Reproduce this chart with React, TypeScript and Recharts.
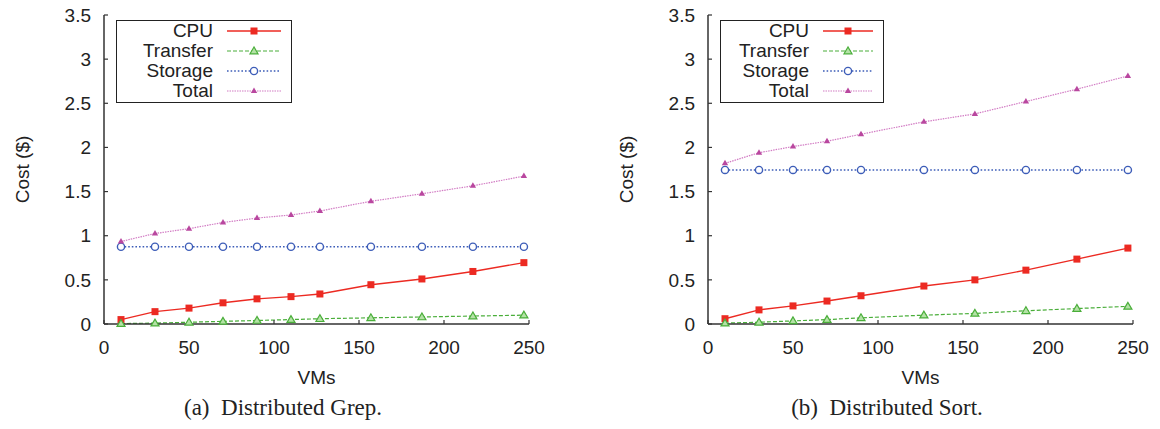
import { LineChart, Line, XAxis, YAxis } from 'recharts';

// VM counts on the x axis
const vmsGrep = [10, 30, 50, 70, 90, 110, 127, 157, 187, 217, 247];
const vmsSort = [10, 30, 50, 70, 90, 127, 157, 187, 217, 247];

// (a) Distributed Grep, cost in $
const cpuGrep = [0.05, 0.14, 0.18, 0.24, 0.285, 0.31, 0.34, 0.445, 0.51, 0.595, 0.695];
const transferGrep = [0.005, 0.01, 0.02, 0.03, 0.04, 0.05, 0.06, 0.07, 0.08, 0.09, 0.1];
const storageGrep = [0.875, 0.875, 0.875, 0.875, 0.875, 0.875, 0.875, 0.875, 0.875, 0.875, 0.875];
const totalGrep = [0.935, 1.025, 1.08, 1.15, 1.2, 1.235, 1.28, 1.39, 1.475, 1.565, 1.675];

// (b) Distributed Sort, cost in $
const cpuSort = [0.06, 0.16, 0.205, 0.26, 0.32, 0.43, 0.5, 0.61, 0.735, 0.86];
const transferSort = [0.01, 0.02, 0.035, 0.05, 0.07, 0.1, 0.12, 0.15, 0.175, 0.2];
const storageSort = [1.745, 1.745, 1.745, 1.745, 1.745, 1.745, 1.745, 1.745, 1.745, 1.745];
const totalSort = [1.82, 1.94, 2.01, 2.07, 2.15, 2.29, 2.38, 2.52, 2.66, 2.81];

const xTicks = [0, 50, 100, 150, 200, 250];
const yTicks = [0, 0.5, 1, 1.5, 2, 2.5, 3, 3.5];

const FONT = '"Liberation Sans", Arial, sans-serif';
const AXIS = '#333';

const SquareDot = ({ cx, cy, size = 7 }: any) => (
  <rect x={cx - size / 2} y={cy - size / 2} width={size} height={size} fill="#ec2a22" />
);
const OpenTriangle = ({ cx, cy }: any) => (
  <polygon
    points={`${cx},${cy - 4} ${cx - 4},${cy + 2.8} ${cx + 4},${cy + 2.8}`}
    fill="#b4e2a6"
    stroke="#4aae3a"
    strokeWidth={1.2}
  />
);
const OpenCircle = ({ cx, cy }: any) => (
  <circle cx={cx} cy={cy} r={3.6} fill="#fff" stroke="#3d5db8" strokeWidth={1.4} />
);
const SmallTriangle = ({ cx, cy }: any) => (
  <polygon points={`${cx},${cy - 3.5} ${cx - 3.2},${cy + 2} ${cx + 3.2},${cy + 2}`} fill="#b9479f" />
);

const series = [
  { key: 'cpu', name: 'CPU', color: '#ec2a22', dash: undefined, width: 1.4, Marker: SquareDot },
  { key: 'transfer', name: 'Transfer', color: '#4aae3a', dash: '4 2', width: 1.2, Marker: OpenTriangle },
  { key: 'storage', name: 'Storage', color: '#3d5db8', dash: '1.6 2', width: 1.4, Marker: OpenCircle },
  { key: 'total', name: 'Total', color: '#d27cc4', dash: '1.5 1', width: 1.2, Marker: SmallTriangle },
];

function rows(vms: number[], cpu: number[], transfer: number[], storage: number[], total: number[]) {
  return vms.map((v, i) => ({ vms: v, cpu: cpu[i], transfer: transfer[i], storage: storage[i], total: total[i] }));
}

function KeyBox({ width, textW, lineW }: { width: number; textW: number; lineW: number }) {
  return (
    <div
      style={{
        position: 'absolute',
        left: 116,
        top: 20,
        width,
        boxSizing: 'border-box',
        border: '1.5px solid #222',
        background: '#fff',
        padding: '0 0 1px 0',
        fontFamily: FONT,
        fontSize: 19,
        color: '#222',
      }}
    >
      {series.map((s) => (
        <div key={s.key} style={{ display: 'flex', alignItems: 'center', height: 20 }}>
          <div style={{ width: textW, textAlign: 'right', lineHeight: '20px' }}>{s.name}</div>
          <svg width={lineW} height={12} style={{ marginLeft: 14 }}>
            <line x1={0} y1={6} x2={lineW} y2={6} stroke={s.color} strokeWidth={s.width} strokeDasharray={s.dash} />
            <s.Marker cx={lineW / 2} cy={6} />
          </svg>
        </div>
      ))}
    </div>
  );
}

function CostChart({ data, left, legendW, textW, lineW, caption }: any) {
  return (
    <div style={{ position: 'absolute', left, top: 0, width: 580, height: 429 }}>
      <LineChart width={580} height={429} data={data} margin={{ top: 15, right: 51, bottom: 45, left: 44 }}>
        <XAxis
          dataKey="vms"
          type="number"
          domain={[0, 250]}
          ticks={xTicks}
          height={60}
          tickSize={-4}
          tickMargin={21}
          axisLine={{ stroke: AXIS, strokeWidth: 1.5 }}
          tickLine={{ stroke: AXIS, strokeWidth: 1.2 }}
          tick={{ fill: '#222', fontSize: 19, fontFamily: FONT }}
          label={{ value: 'VMs', position: 'insideBottom', offset: 0, fill: '#222', fontSize: 19, fontFamily: FONT }}
        />
        <YAxis
          type="number"
          domain={[0, 3.5]}
          ticks={yTicks}
          width={60}
          tickSize={-4}
          tickMargin={17}
          axisLine={{ stroke: AXIS, strokeWidth: 1.5 }}
          tickLine={{ stroke: AXIS, strokeWidth: 1.2 }}
          tick={{ fill: '#222', fontSize: 19, fontFamily: FONT }}
          label={(props: any) => {
            const vb = props.viewBox;
            const x = vb.x - 22;
            const y = vb.y + vb.height / 2;
            return (
              <text x={x} y={y} transform={`rotate(-90, ${x}, ${y})`} textAnchor="middle" dominantBaseline="central"
                fill="#222" fontSize={19} fontFamily={FONT}>
                Cost ($)
              </text>
            );
          }}
        />
        {series.map((s) => (
          <Line
            key={s.key}
            dataKey={s.key}
            name={s.name}
            stroke={s.color}
            strokeWidth={s.width}
            strokeDasharray={s.dash}
            isAnimationActive={false}
            dot={(p: any) => <s.Marker key={`${s.key}-${p.index}`} cx={p.cx} cy={p.cy} />}
            activeDot={false}
          />
        ))}
      </LineChart>
      <KeyBox width={legendW} textW={textW} lineW={lineW} />
      <div
        style={{
          position: 'absolute',
          left: 0,
          width: 566,
          top: 395,
          textAlign: 'center',
          fontFamily: '"Liberation Serif", "Times New Roman", serif',
          fontSize: 23,
          color: '#222',
          whiteSpace: 'pre',
        }}
      >
        {caption}
      </div>
    </div>
  );
}

export default function App() {
  return (
    <div style={{ position: 'absolute', left: 0, top: 0, width: 1160, height: 429, background: '#fff' }}>
      <CostChart
        data={rows(vmsGrep, cpuGrep, transferGrep, storageGrep, totalGrep)}
        left={0}
        legendW={176}
        textW={96}
        lineW={54}
        caption="(a)  Distributed Grep."
      />
      <CostChart
        data={rows(vmsSort, cpuSort, transferSort, storageSort, totalSort)}
        left={604}
        legendW={164}
        textW={88}
        lineW={50}
        caption="(b)  Distributed Sort."
      />
    </div>
  );
}
